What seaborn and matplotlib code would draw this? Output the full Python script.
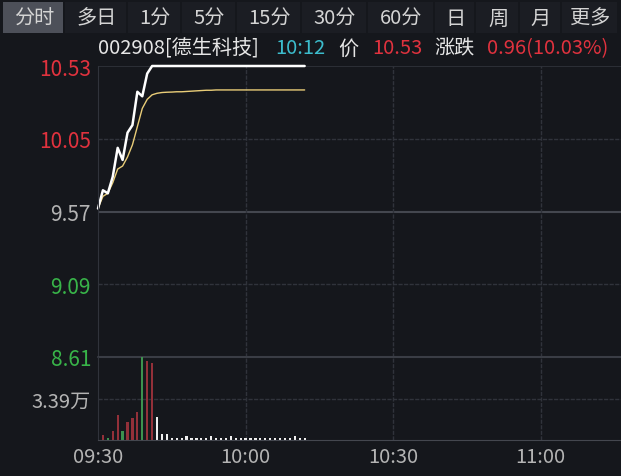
import numpy as np
import pandas as pd
import matplotlib
matplotlib.use("Agg")
import matplotlib.pyplot as plt
import seaborn as sns

# ---- data (minutes after 09:30) ----
minutes = list(range(0, 43))
price = [9.59, 9.71, 9.69, 9.80, 9.99, 9.91, 10.09, 10.14, 10.36, 10.33, 10.48] + [10.53] * 32
avg_price = [9.59, 9.67, 9.69, 9.76, 9.85, 9.87, 9.93, 10.01, 10.13, 10.25, 10.31, 10.34,
             10.35, 10.355, 10.357, 10.358, 10.36, 10.36, 10.362, 10.364, 10.366, 10.368,
             10.37, 10.37] + [10.372] * 19
volume = [0.66, 0.40, 0.17, 0.74, 2.07, 0.74, 1.49, 1.82, 2.32, 6.78, 6.45, 6.28, 1.90,
          0.50, 0.50, 0.15, 0.15, 0.15, 0.30, 0.15, 0.15, 0.15, 0.15, 0.30, 0.15, 0.15,
          0.15, 0.30, 0.15, 0.15, 0.15, 0.15, 0.15, 0.15, 0.15, 0.15, 0.15, 0.15, 0.15,
          0.15, 0.30, 0.15, 0.15]
prev_close = 9.57
price_ticks = [10.53, 10.05, 9.57, 9.09, 8.61]
vol_tick = 3.39
time_ticks = [0, 30, 60, 90]
time_labels = ["09:30", "10:00", "10:30", "11:00"]
tabs = ["分时", "多日", "1分", "5分", "15分", "30分", "60分", "日", "周", "月", "更多"]
tab_edges = [3, 65, 128, 182, 237, 302, 368, 435, 476, 520, 562, 619]
header = ["002908[德生科技]", "10:12", "价", "10.53", "涨跌", "0.96(10.03%)"]

BG = "#15171c"
GRID = "#30333b"
RED = "#e0323e"
GREEN = "#38b449"
GRAY = "#b4b4b4"
DOT = (0, (3, 1))

sns.set_style("dark")
plt.rcParams["font.family"] = ["Noto Sans CJK SC", "DejaVu Sans"]
plt.rcParams["axes.unicode_minus"] = False

W, H = 621, 477
fig = plt.figure(figsize=(W / 100, H / 100), dpi=100, facecolor=BG)

def fx(px):
    return px / W

def fy(py):
    return 1 - py / H

# ---- tab bar ----
for i, name in enumerate(tabs):
    x0, x1 = tab_edges[i], tab_edges[i + 1]
    face = "#4d5059" if i == 0 else "#1b1d23"
    fig.patches.append(plt.Rectangle((fx(x0), fy(34)), fx(x1 - x0 - 2), 31 / H,
                                     transform=fig.transFigure, facecolor=face,
                                     edgecolor="none"))
    fig.text(fx((x0 + x1) / 2), fy(19), name, color="#d4d4d4", fontsize=14.5,
             ha="center", va="center")

# ---- header ----
hdr_x = [98, 275, 338, 372, 434, 487]
hdr_c = ["#e6e6e6", "#3cbccc", "#e6e6e6", RED, "#e6e6e6", RED]
for s, px, c in zip(header, hdr_x, hdr_c):
    fig.text(fx(px), fy(49), s, color=c, fontsize=14.5, ha="left", va="center")

# ---- price panel ----
ax = fig.add_axes([fx(98), fy(358), fx(523), (358 - 67) / H])
ax.set_facecolor(BG)
df = pd.DataFrame({"m": minutes, "price": price, "avg": avg_price})
sns.lineplot(data=df, x="m", y="avg", ax=ax, color="#e9cd78", lw=1.0)
sns.lineplot(data=df, x="m", y="price", ax=ax, color="white", lw=1.8)
for ln in ax.lines:
    ln.set_clip_on(False)
ax.set_xlim(0, 523 / 4.92)
ax.set_ylim(8.61, 10.53)
ax.axhline(10.53, color=GRID, lw=1.2, zorder=0)
ax.axhline(prev_close, color="#44474f", lw=1.5, zorder=0)
for v in [10.05, 9.09]:
    ax.axhline(v, color=GRID, lw=1.0, ls=DOT, zorder=0)
for t in time_ticks[1:]:
    ax.axvline(t, color=GRID, lw=1.0, ls=DOT, zorder=0)
ax.set_yticks(price_ticks)
ax.set_yticklabels([f"{v:.2f}" for v in price_ticks], fontsize=15)
for lab, v in zip(ax.get_yticklabels(), price_ticks):
    lab.set_color(RED if v > prev_close else (GRAY if v == prev_close else GREEN))
ax.tick_params(axis="y", length=0, pad=5)
ax.set_xticks([])
ax.set_xlabel("")
ax.set_ylabel("")
for side in ["top", "right", "bottom"]:
    ax.spines[side].set_visible(False)
ax.spines["left"].set_color(GRID)
ax.grid(False)

# ---- volume panel ----
axv = fig.add_axes([fx(98), fy(441), fx(523), (441 - 358) / H])
axv.set_facecolor(BG)
dirs = ["up"]
for i in range(1, len(price)):
    d = price[i] - price[i - 1]
    dirs.append("up" if d > 0 else ("down" if d < 0 else "flat"))
vdf = pd.DataFrame({"m": minutes, "vol": volume, "dir": dirs})
sns.barplot(data=vdf, x="m", y="vol", hue="dir", native_scale=True, dodge=False,
            palette={"up": "#a3202b", "down": "#2fa046", "flat": "#f0f0f0"},
            width=0.45, legend=False, ax=axv, linewidth=0)
axv.set_xlim(0, 523 / 4.92)
axv.set_ylim(0, 6.78)
axv.axhline(6.78, color="#3a3d45", lw=1.5, zorder=0, clip_on=False)
axv.axhline(vol_tick, color=GRID, lw=1.0, ls=DOT, zorder=0)
for t in time_ticks[1:]:
    axv.axvline(t, color=GRID, lw=1.0, ls=DOT, zorder=0)
axv.set_yticks([vol_tick])
axv.set_yticklabels([f"{vol_tick}万"], fontsize=14.5, color=GRAY)
axv.tick_params(axis="y", length=0, pad=5)
axv.set_xticks(time_ticks)
axv.set_xticklabels(time_labels, fontsize=14.5, color=GRAY)
axv.tick_params(axis="x", length=0, pad=4)
axv.set_xlabel("")
axv.set_ylabel("")
for side in ["top", "right"]:
    axv.spines[side].set_visible(False)
axv.spines["left"].set_color(GRID)
axv.spines["bottom"].set_color("#44474f")
axv.grid(False)

fig.savefig("out.png", dpi=100, facecolor=BG)
